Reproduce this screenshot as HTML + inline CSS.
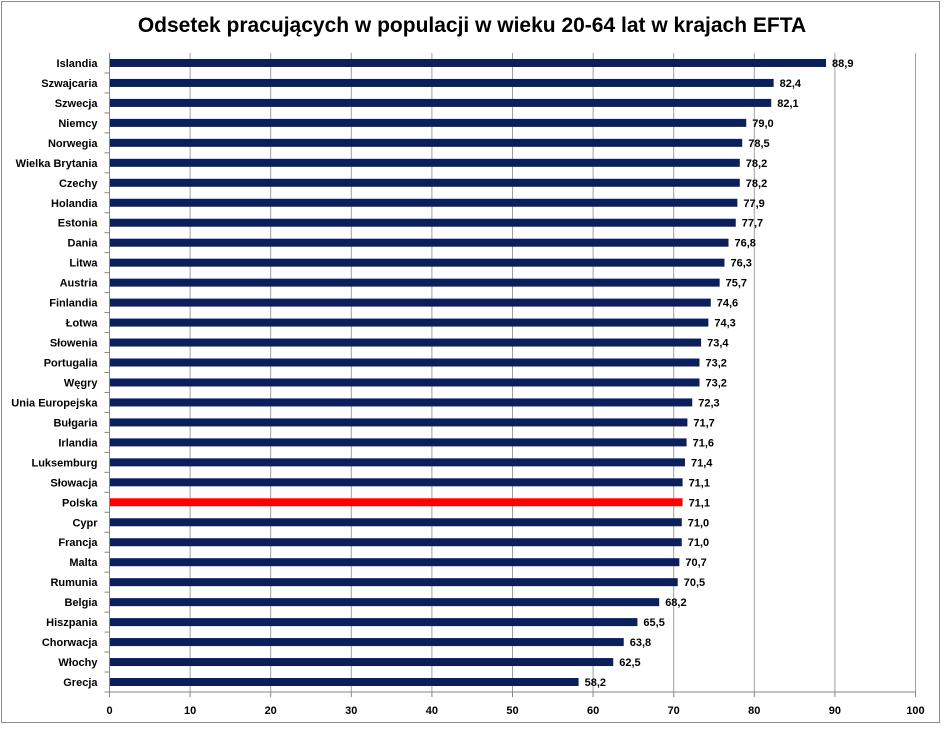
<!DOCTYPE html>
<html><head><meta charset="utf-8"><style>
body{margin:0;background:#fff;width:945px;height:729px;overflow:hidden}
svg{display:block;font-family:"Liberation Sans",Carlito,sans-serif}
</style></head><body>
<svg id="c" width="945" height="729">
<rect x="1.5" y="1.5" width="938" height="721" fill="#fff" stroke="#8c8c8c"/>
<text x="472" y="32" text-anchor="middle" font-size="21" font-weight="bold">Odsetek pracujących w populacji w wieku 20-64 lat w krajach EFTA</text>
<g id="grid"></g><g id="bars"></g><g id="axes"></g>
</svg>
<script>
const categories=["Islandia","Szwajcaria","Szwecja","Niemcy","Norwegia","Wielka Brytania","Czechy","Holandia","Estonia","Dania","Litwa","Austria","Finlandia","Łotwa","Słowenia","Portugalia","Węgry","Unia Europejska","Bułgaria","Irlandia","Luksemburg","Słowacja","Polska","Cypr","Francja","Malta","Rumunia","Belgia","Hiszpania","Chorwacja","Włochy","Grecja"];
const values=[88.9,82.4,82.1,79.0,78.5,78.2,78.2,77.9,77.7,76.8,76.3,75.7,74.6,74.3,73.4,73.2,73.2,72.3,71.7,71.6,71.4,71.1,71.1,71.0,71.0,70.7,70.5,68.2,65.5,63.8,62.5,58.2];
const ticks=[0,10,20,30,40,50,60,70,80,90,100];
const highlight="Polska";
const NS="http://www.w3.org/2000/svg";
const X0=109.5,X1=915.5,Y0=53,Y1=692;
const x=v=>X0+(v-0)/100*(X1-X0);
const band=(Y1-Y0)/categories.length;
const y=i=>Y0+band*i+band/2;
function mk(t,a,p,txt){const e=document.createElementNS(NS,t);for(const k in a)e.setAttribute(k,a[k]);if(txt!==undefined)e.textContent=txt;p.appendChild(e);return e;}
const G=document.getElementById('grid'),B=document.getElementById('bars'),A=document.getElementById('axes');
ticks.forEach(t=>{
 if(t>0){const l=mk('line',{x1:x(t),x2:x(t),y1:Y0,y2:Y1,stroke:'#a0a0a0','stroke-width':1},G);
 
 }
 const tl=mk('line',{x1:x(t),x2:x(t),y1:Y1,y2:Y1+5,stroke:'#868686'},A);
 
 
 const tx=mk('text',{x:x(t),y:Y1+22,'text-anchor':'middle','font-size':11,'font-weight':'bold'},A,String(t));
 
 
});
categories.forEach((c,i)=>{
 const r=mk('rect',{x:X0,y:y(i)-4,width:x(values[i])-X0,height:8,fill:c===highlight?'#ff0000':'#0a1f5c'},B);
 
 
 const v=mk('text',{x:x(values[i])+6,y:y(i)+4,'font-size':11,'font-weight':'bold'},B,values[i].toFixed(1).replace('.',','));
 
 
 const l=mk('text',{x:X0-12,y:y(i)+4,'text-anchor':'end','font-size':11,'font-weight':'bold'},A,c);
 
 
 const tk=mk('line',{x1:X0-5,x2:X0,y1:Y0+band*(i+1),y2:Y0+band*(i+1),stroke:'#868686'},A);
 
 
});
const ya=mk('line',{x1:X0,x2:X0,y1:Y0,y2:Y1,stroke:'#868686'},A);


const xa=mk('line',{x1:X0,x2:X1,y1:Y1,y2:Y1,stroke:'#868686'},A);


</script>
</body></html>
